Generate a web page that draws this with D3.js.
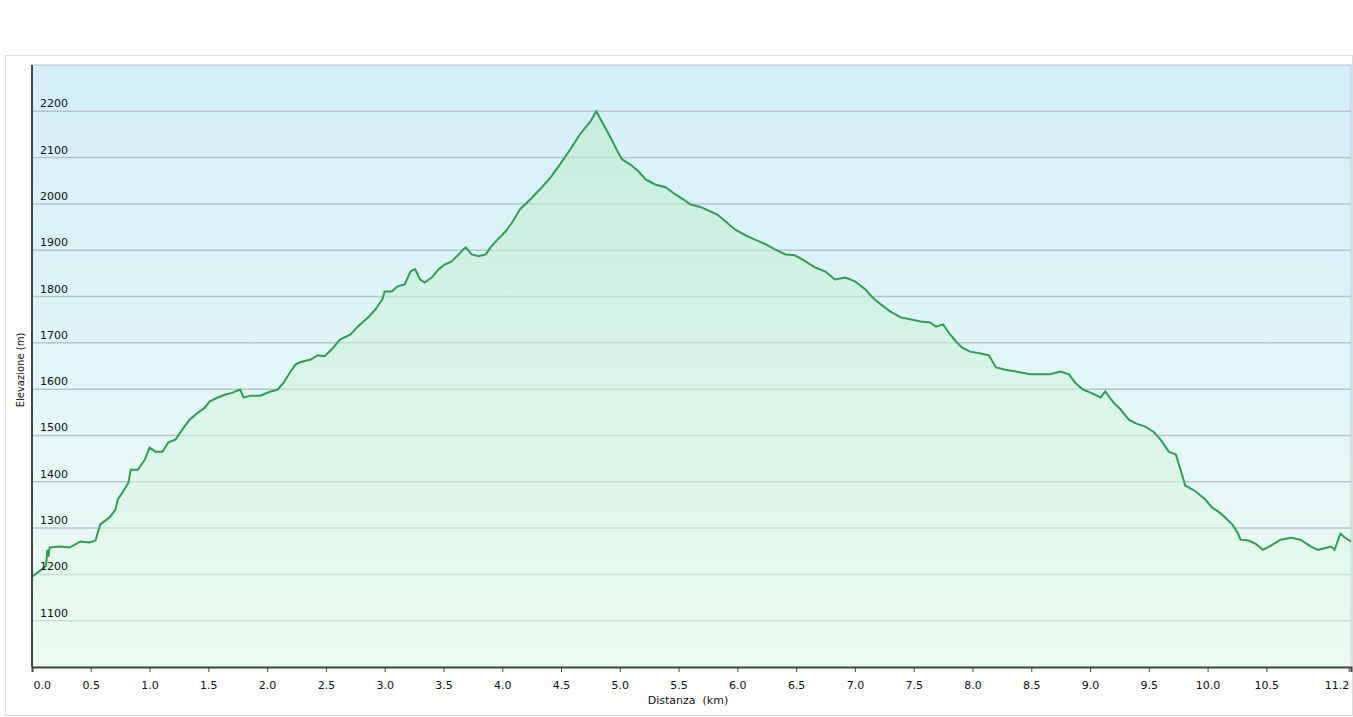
<!DOCTYPE html>
<html><head><meta charset="utf-8">
<script src="https://cdn.jsdelivr.net/npm/d3@7"></script>
<style>
body{margin:0;background:#fff;}
text{font-family:"DejaVu Sans",Verdana,sans-serif;font-size:11px;fill:#111;}
</style></head>
<body><div id="chart"></div>
<script>
// profile data (km, m)
const distKm = [0.00,0.07,0.12,0.13,0.14,0.15,0.24,0.32,0.41,0.49,0.54,0.58,0.66,0.71,0.73,0.77,0.82,0.84,0.90,0.96,1.00,1.05,1.11,1.16,1.22,1.28,1.34,1.40,1.47,1.51,1.58,1.64,1.70,1.77,1.80,1.86,1.94,2.03,2.09,2.14,2.20,2.24,2.28,2.37,2.43,2.49,2.55,2.62,2.71,2.77,2.86,2.92,2.98,3.00,3.06,3.11,3.17,3.22,3.26,3.30,3.34,3.40,3.46,3.51,3.57,3.63,3.67,3.69,3.74,3.80,3.86,3.90,3.96,4.03,4.09,4.15,4.24,4.32,4.41,4.49,4.58,4.66,4.75,4.80,4.86,4.92,4.98,5.02,5.09,5.16,5.22,5.30,5.39,5.47,5.54,5.60,5.69,5.77,5.83,5.90,5.98,6.07,6.15,6.24,6.32,6.41,6.49,6.58,6.66,6.75,6.83,6.92,7.00,7.09,7.15,7.22,7.30,7.39,7.47,7.56,7.64,7.69,7.75,7.81,7.86,7.91,7.98,8.07,8.14,8.20,8.28,8.37,8.49,8.66,8.75,8.82,8.88,8.94,9.00,9.09,9.13,9.20,9.26,9.33,9.39,9.47,9.54,9.60,9.67,9.73,9.77,9.81,9.90,9.98,10.04,10.09,10.15,10.21,10.26,10.28,10.35,10.41,10.47,10.54,10.62,10.71,10.79,10.88,10.94,11.05,11.08,11.13,11.17,11.22];
const elevM = [1195,1208,1219,1253,1238,1258,1260,1258,1271,1269,1273,1308,1323,1340,1362,1377,1398,1426,1426,1448,1474,1465,1465,1485,1491,1513,1534,1547,1560,1573,1582,1588,1592,1599,1582,1586,1586,1595,1599,1614,1638,1653,1658,1664,1673,1671,1686,1707,1718,1735,1755,1772,1794,1811,1811,1822,1826,1854,1859,1837,1830,1841,1859,1869,1876,1891,1902,1906,1891,1887,1891,1906,1923,1941,1962,1988,2010,2031,2057,2085,2118,2150,2178,2200,2172,2144,2114,2096,2085,2070,2053,2042,2036,2021,2010,1999,1993,1984,1977,1962,1945,1932,1923,1913,1902,1891,1889,1876,1863,1854,1837,1841,1833,1815,1798,1783,1768,1755,1751,1746,1744,1735,1740,1718,1703,1690,1681,1677,1673,1647,1642,1638,1632,1632,1638,1632,1612,1599,1593,1582,1595,1571,1556,1534,1526,1519,1508,1491,1465,1459,1426,1392,1379,1362,1344,1336,1323,1308,1288,1275,1273,1266,1253,1262,1275,1279,1275,1260,1253,1260,1253,1288,1279,1271];
const xTicks = [0,0.5,1,1.5,2,2.5,3,3.5,4,4.5,5,5.5,6,6.5,7,7.5,8,8.5,9,9.5,10,10.5,11.2];
const yTicks = [1100,1200,1300,1400,1500,1600,1700,1800,1900,2000,2100,2200];

const W = 1353, H = 717;
const plotLeft = 32, plotRight = 1351, plotTop = 65, plotBottom = 667;

const svg = d3.select('#chart').append('svg').attr('width', W).attr('height', H);
const defs = svg.append('defs');
const bg = defs.append('linearGradient').attr('id','bg').attr('x1',0).attr('x2',0).attr('y1',0).attr('y2',1);
bg.append('stop').attr('offset','0%').attr('stop-color','#d2effa');
bg.append('stop').attr('offset','100%').attr('stop-color','#effdf4');
const ag = defs.append('linearGradient').attr('id','ag').attr('x1',0).attr('x2',0).attr('y1',0).attr('y2',1);
ag.append('stop').attr('offset','0%').attr('stop-color','#b8ecc8').attr('stop-opacity',0.55);
ag.append('stop').attr('offset','100%').attr('stop-color','#e6fbec').attr('stop-opacity',0.5);

// outer frame
svg.append('rect').attr('x',5.5).attr('y',55.5).attr('width',W-6).attr('height',H-57)
   .attr('fill','none').attr('stroke','#dcdcdc');

const xScale = d3.scaleLinear().domain([0,11.22]).range([plotLeft,plotRight]);
const yScale = d3.scaleLinear().domain([1000,2300]).range([plotBottom,plotTop]);

svg.append('rect').attr('x',plotLeft).attr('y',plotTop).attr('width',plotRight-plotLeft).attr('height',plotBottom-plotTop)
   .attr('fill','url(#bg)').attr('stroke','#b0c4cc');

// gridlines
svg.selectAll('.grid').data(yTicks).enter().append('line')
   .attr('x1',plotLeft).attr('x2',plotRight)
   .attr('y1',d=>yScale(d)).attr('y2',d=>yScale(d))
   .attr('stroke','#b4c6cc').attr('stroke-width',1.5);

const pts = distKm.map((d,i)=>[d, elevM[i]]);
svg.append('path').datum(pts)
   .attr('d', d3.area().x(d=>xScale(d[0])).y0(plotBottom).y1(d=>yScale(d[1])))
   .attr('fill','url(#ag)');
svg.append('path').datum(pts)
   .attr('d', d3.line().x(d=>xScale(d[0])).y(d=>yScale(d[1])))
   .attr('fill','none').attr('stroke','#2f9e55').attr('stroke-width',2);

svg.selectAll('.ylab').data(yTicks).enter().append('text')
   .attr('x',40).attr('y',d=>yScale(d)-4).text(d=>d);

// axes
const xAxis = svg.append('g').attr('transform',`translate(0,${plotBottom})`)
   .call(d3.axisBottom(xScale).tickValues(xTicks).tickSize(5).tickFormat(d3.format('.1f')));
xAxis.select('.domain').attr('stroke','#444').attr('stroke-width',2);
xAxis.selectAll('.tick line').attr('stroke','#444');
xAxis.selectAll('.tick text').attr('dy','1.3em').style('font-size','11px').style('font-family','"DejaVu Sans",Verdana,sans-serif')
   .attr('text-anchor',(d,i)=> i===0 ? 'start' : (i===xTicks.length-1 ? 'end' : 'middle'))
   .attr('x',(d,i)=> i===0 ? 1 : 0);
svg.append('line').attr('x1',plotLeft).attr('x2',plotLeft).attr('y1',plotTop).attr('y2',plotBottom)
   .attr('stroke','#444').attr('stroke-width',2);

svg.append('text').attr('x',688).attr('y',704).attr('text-anchor','middle').attr('xml:space','preserve').text('Distanza  (km)');
svg.append('text').attr('transform','translate(24,370) rotate(-90)').attr('text-anchor','middle')
   .style('font-size','10px').text('Elevazione (m)');
</script></body></html>
